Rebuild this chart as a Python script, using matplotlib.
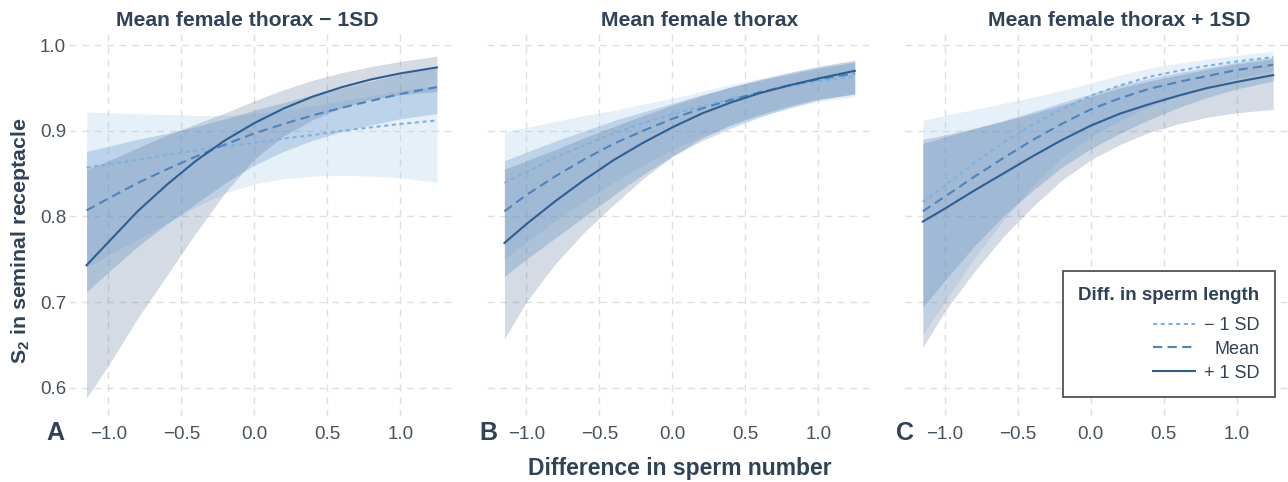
import matplotlib.pyplot as plt

plt.rcParams['font.family'] = ['Liberation Sans', 'DejaVu Sans']
plt.rcParams['mathtext.fontset'] = 'custom'
plt.rcParams['mathtext.rm'] = 'Liberation Sans'
plt.rcParams['mathtext.bf'] = 'Liberation Sans:bold'

# difference in sperm number (x positions where curves were read)
x = [-1.15, -1.0, -0.8, -0.6, -0.4, -0.2, 0.0, 0.2, 0.4, 0.6, 0.8, 1.0, 1.25]

# panel A: mean female thorax - 1SD
a_minus = [0.857, 0.861, 0.866, 0.872, 0.877, 0.882, 0.886, 0.891, 0.895, 0.900, 0.904, 0.908, 0.912]
a_minus_lo = [0.740, 0.755, 0.773, 0.792, 0.811, 0.827, 0.838, 0.844, 0.847, 0.848, 0.847, 0.845, 0.840]
a_minus_hi = [0.922, 0.921, 0.920, 0.919, 0.918, 0.918, 0.920, 0.924, 0.929, 0.935, 0.941, 0.947, 0.953]
a_mean = [0.807, 0.821, 0.839, 0.855, 0.870, 0.884, 0.897, 0.908, 0.918, 0.927, 0.935, 0.943, 0.951]
a_mean_lo = [0.712, 0.735, 0.765, 0.791, 0.815, 0.839, 0.860, 0.876, 0.889, 0.899, 0.907, 0.914, 0.920]
a_mean_hi = [0.876, 0.882, 0.890, 0.897, 0.905, 0.914, 0.924, 0.933, 0.942, 0.950, 0.958, 0.966, 0.975]
a_plus = [0.743, 0.770, 0.806, 0.837, 0.865, 0.889, 0.909, 0.926, 0.940, 0.951, 0.960, 0.967, 0.974]
a_plus_lo = [0.588, 0.626, 0.681, 0.731, 0.781, 0.828, 0.867, 0.894, 0.913, 0.927, 0.937, 0.942, 0.946]
a_plus_hi = [0.855, 0.865, 0.880, 0.895, 0.908, 0.921, 0.935, 0.948, 0.959, 0.968, 0.975, 0.981, 0.987]

# panel B: mean female thorax
b_minus = [0.839, 0.852, 0.869, 0.883, 0.897, 0.909, 0.919, 0.929, 0.937, 0.945, 0.952, 0.958, 0.964]
b_minus_lo = [0.750, 0.770, 0.795, 0.818, 0.840, 0.860, 0.878, 0.893, 0.906, 0.917, 0.926, 0.934, 0.940]
b_minus_hi = [0.899, 0.904, 0.911, 0.918, 0.924, 0.931, 0.938, 0.946, 0.954, 0.961, 0.968, 0.975, 0.983]
b_mean = [0.806, 0.825, 0.847, 0.867, 0.885, 0.900, 0.914, 0.926, 0.936, 0.945, 0.953, 0.960, 0.967]
b_mean_lo = [0.730, 0.750, 0.775, 0.800, 0.825, 0.849, 0.870, 0.888, 0.903, 0.916, 0.927, 0.936, 0.943]
b_mean_hi = [0.865, 0.875, 0.888, 0.900, 0.912, 0.922, 0.932, 0.942, 0.951, 0.959, 0.966, 0.973, 0.980]
b_plus = [0.769, 0.791, 0.818, 0.843, 0.866, 0.886, 0.904, 0.920, 0.933, 0.944, 0.953, 0.961, 0.970]
b_plus_lo = [0.657, 0.700, 0.745, 0.782, 0.814, 0.844, 0.870, 0.891, 0.907, 0.919, 0.929, 0.937, 0.943]
b_plus_hi = [0.855, 0.865, 0.878, 0.892, 0.905, 0.918, 0.930, 0.941, 0.951, 0.960, 0.968, 0.975, 0.982]

# panel C: mean female thorax + 1SD
c_minus = [0.817, 0.836, 0.862, 0.886, 0.907, 0.925, 0.941, 0.953, 0.963, 0.970, 0.976, 0.981, 0.986]
c_minus_lo = [0.662, 0.700, 0.750, 0.795, 0.835, 0.868, 0.893, 0.912, 0.928, 0.941, 0.952, 0.961, 0.970]
c_minus_hi = [0.912, 0.918, 0.925, 0.932, 0.939, 0.947, 0.956, 0.965, 0.973, 0.979, 0.984, 0.988, 0.993]
c_mean = [0.806, 0.823, 0.846, 0.868, 0.889, 0.908, 0.925, 0.938, 0.949, 0.957, 0.964, 0.971, 0.977]
c_mean_lo = [0.694, 0.725, 0.765, 0.800, 0.830, 0.857, 0.879, 0.897, 0.913, 0.927, 0.939, 0.949, 0.958]
c_mean_hi = [0.885, 0.893, 0.902, 0.912, 0.922, 0.933, 0.943, 0.953, 0.961, 0.968, 0.974, 0.980, 0.986]
c_plus = [0.794, 0.809, 0.830, 0.850, 0.870, 0.889, 0.906, 0.920, 0.931, 0.941, 0.950, 0.957, 0.965]
c_plus_lo = [0.647, 0.689, 0.735, 0.776, 0.811, 0.842, 0.866, 0.884, 0.898, 0.908, 0.916, 0.921, 0.925]
c_plus_hi = [0.890, 0.895, 0.903, 0.911, 0.920, 0.930, 0.940, 0.950, 0.958, 0.965, 0.972, 0.978, 0.984]

titles = ['Mean female thorax \u2212 1SD', 'Mean female thorax', 'Mean female thorax + 1SD']
letters = ['A', 'B', 'C']
legend_labels = ['\u2212 1 SD', 'Mean', '+ 1 SD']
xticks = [-1.0, -0.5, 0.0, 0.5, 1.0]
yticks = [0.6, 0.7, 0.8, 0.9, 1.0]

panels = [
    [(a_minus, a_minus_lo, a_minus_hi), (a_mean, a_mean_lo, a_mean_hi), (a_plus, a_plus_lo, a_plus_hi)],
    [(b_minus, b_minus_lo, b_minus_hi), (b_mean, b_mean_lo, b_mean_hi), (b_plus, b_plus_lo, b_plus_hi)],
    [(c_minus, c_minus_lo, c_minus_hi), (c_mean, c_mean_lo, c_mean_hi), (c_plus, c_plus_lo, c_plus_hi)],
]

line_colors = ['#7fb2df', '#4f83bb', '#2e5f93']
band_colors = ['#a6cbec', '#4f86c0', '#3d5f8c']
band_alpha = [0.27, 0.27, 0.22]
line_styles = [(0, (2.0, 1.7)), (0, (4.4, 2.6)), '-']
text_color = '#2f4258'
tick_color = '#45525f'

fig = plt.figure(figsize=(12.88, 4.82), dpi=100)
lefts = [69 / 1288, 486.9 / 1288, 905.3 / 1288]
title_x = [0.462, 0.553, 0.554]

for i, left in enumerate(lefts):
    ax = fig.add_axes([left, 66 / 482, 385.4 / 1288, 382 / 482])
    for k, (mid, lo, hi) in enumerate(panels[i]):
        ax.fill_between(x, lo, hi, color=band_colors[k], alpha=band_alpha[k], lw=0)
    handles = []
    for k, (mid, lo, hi) in enumerate(panels[i]):
        h, = ax.plot(x, mid, color=line_colors[k], lw=1.5, linestyle=line_styles[k],
                     label=legend_labels[k])
        handles.append(h)

    ax.set_xlim(-1.27, 1.37)
    ax.set_ylim(0.567, 1.013)
    ax.set_xticks(xticks)
    ax.set_xticklabels(['{:.1f}'.format(v).replace('-', '\u2212') for v in xticks])
    ax.set_yticks(yticks)
    if i == 0:
        ax.set_yticklabels(['{:.1f}'.format(v) for v in yticks])
    else:
        ax.set_yticklabels([])
    ax.tick_params(length=0, labelsize=13.5, colors=tick_color, pad=7)
    ax.tick_params(axis='y', pad=2)
    for s in ax.spines.values():
        s.set_visible(False)
    ax.grid(True, color='#e0e0e0', lw=1.0, linestyle=(0, (5, 4)))
    ax.set_axisbelow(True)

    ax.text(title_x[i], 1.021, titles[i], transform=ax.transAxes, ha='center', va='baseline',
            fontsize=15.2, fontweight='bold', color=text_color)

    if i == 2:
        leg = ax.legend(handles=handles, loc='lower right', bbox_to_anchor=(0.958, 0.05),
                        borderaxespad=0, title='Diff. in sperm length', alignment='right',
                        fancybox=False, edgecolor='#444444', framealpha=1,
                        fontsize=13, title_fontproperties={'weight': 'bold', 'size': 13.5},
                        handlelength=2.3, labelspacing=0.38, borderpad=0.85, handletextpad=0.5)
        leg.get_frame().set_linewidth(1.2)
        leg.get_title().set_color(text_color)
        leg._legend_box.sep = 9.5  # extra gap between title and entries
        for t in leg.get_texts():
            t.set_color(text_color)
        # right-align the entry labels like the original
        fig.canvas.draw()
        renderer = fig.canvas.get_renderer()
        widths = [t.get_window_extent(renderer).width for t in leg.get_texts()]
        shift = max(widths)
        for t, w in zip(leg.get_texts(), widths):
            t.set_position((shift - w, 0))

letter_x = [55, 488, 905]
for i, lx in enumerate(letter_x):
    fig.text(lx / 1288, (482 - 433) / 482, letters[i], ha='center', va='center',
             fontsize=18, fontweight='bold', color=text_color)

fig.text(21 / 1288, (482 - 241) / 482, r'$\mathbf{S_2}$ in seminal receptacle', rotation=90,
         ha='center', va='center', fontsize=15.4, fontweight='bold', color=text_color)
fig.text(680 / 1288, (482 - 468) / 482, 'Difference in sperm number', ha='center', va='center',
         fontsize=16.5, fontweight='bold', color=text_color)

fig.savefig('out.png', dpi=100)
